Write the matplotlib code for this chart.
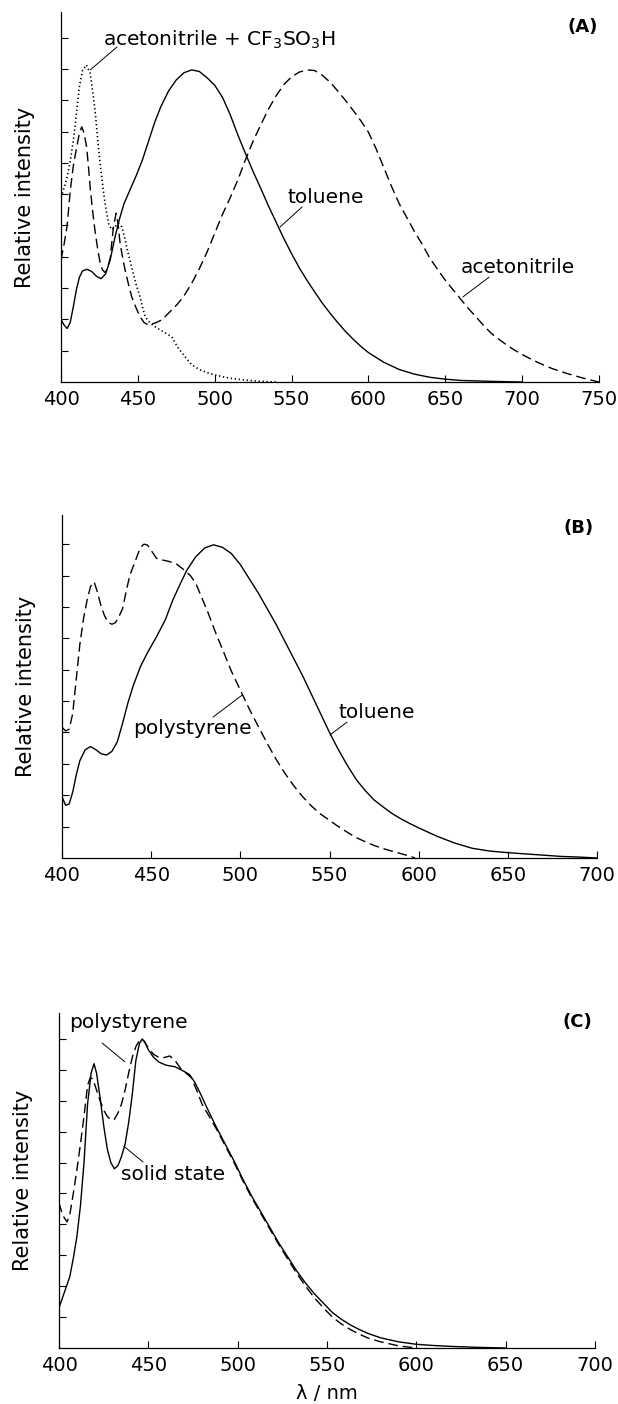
import matplotlib
matplotlib.use("Agg")
import matplotlib.pyplot as plt

plt.rcParams['font.family'] = ['DejaVu Sans']

# ---------------- Panel A data ----------------
a_tol_x = [400, 402, 404, 406, 408, 410, 412, 414, 417, 420, 423, 426, 429, 432, 435, 438, 441, 445, 449,
           453, 457, 461, 465, 470, 475, 480, 485, 490, 495, 500, 505, 510, 515, 520, 525, 530, 535, 540,
           545, 550, 555, 560, 565, 570, 575, 580, 585, 590, 595, 600, 610, 620, 630, 640, 650, 660, 680, 700]
a_tol_y = [2.0, 1.82, 1.71, 1.9, 2.4, 2.95, 3.35, 3.55, 3.6, 3.53, 3.38, 3.3, 3.45, 3.9, 4.6, 5.2, 5.7,
           6.15, 6.6, 7.1, 7.7, 8.3, 8.8, 9.3, 9.65, 9.88, 9.97, 9.92, 9.72, 9.48, 9.1, 8.55, 7.9, 7.3, 6.72,
           6.18, 5.62, 5.1, 4.58, 4.1, 3.65, 3.25, 2.88, 2.52, 2.2, 1.9, 1.62, 1.37, 1.14, 0.94, 0.63, 0.4,
           0.25, 0.15, 0.09, 0.05, 0.02, 0.0]

a_acn_x = [400, 402, 404, 406, 408, 410, 412, 413.5, 415, 416.7, 418, 419, 420.5, 422, 424, 425.5, 427,
           428.6, 430, 432, 434, 435.8, 437, 438.4, 440, 441.6, 444, 446, 449, 451.4, 454, 456.8, 461,
           465.5, 470, 476, 480, 485, 490, 495, 500, 505, 510, 515, 520, 525, 530, 535, 540, 545, 550, 555,
           560, 565, 570, 575, 580, 585, 590, 595, 600, 605, 610, 615, 620, 625, 630, 635, 640, 645, 650,
           655, 660, 665, 670, 675, 680, 685, 690, 695, 700, 705, 710, 715, 720, 725, 730, 735, 740, 745, 750]
a_acn_y = [3.9, 4.4, 5.0, 6.1, 6.9, 7.45, 7.95, 8.15, 7.95, 7.5, 6.8, 6.2, 5.5, 4.88, 4.2, 3.8, 3.58, 3.5,
           3.6, 3.95, 4.9, 5.39, 5.1, 4.45, 4.0, 3.6, 3.1, 2.72, 2.35, 2.09, 1.9, 1.82, 1.88, 1.98, 2.2, 2.5,
           2.75, 3.15, 3.62, 4.15, 4.75, 5.35, 5.88, 6.45, 7.1, 7.7, 8.22, 8.72, 9.15, 9.5, 9.75, 9.9, 9.97,
           9.95, 9.8, 9.58, 9.3, 9.0, 8.68, 8.35, 7.98, 7.45, 6.85, 6.25, 5.7, 5.25, 4.8, 4.4, 3.95, 3.6,
           3.25, 2.95, 2.65, 2.35, 2.08, 1.8, 1.55, 1.36, 1.18, 1.02, 0.88, 0.75, 0.63, 0.52, 0.42, 0.34,
           0.26, 0.19, 0.12, 0.06, 0.0]

a_acid_x = [400, 402, 404, 406, 408, 410, 412, 414, 416.5, 419, 421, 422.5, 424.3, 426, 427.5, 429, 431,
            433, 435, 437.3, 439.5, 441, 443, 445, 447, 449, 451.4, 453, 454.7, 458, 461, 466, 472, 476,
            480, 485, 490, 495, 500, 505, 510, 520, 530, 540]
a_acid_y = [5.9, 6.2, 6.55, 7.05, 7.7, 8.55, 9.45, 9.95, 10.13, 9.86, 9.15, 8.5, 7.52, 6.75, 6.13, 5.6,
            5.05, 4.87, 4.95, 5.07, 4.96, 4.7, 4.25, 3.85, 3.47, 3.1, 2.72, 2.4, 2.09, 1.88, 1.77, 1.62,
            1.45, 1.1, 0.85, 0.55, 0.4, 0.3, 0.23, 0.17, 0.12, 0.06, 0.02, 0.0]

# ---------------- Panel B data ----------------
b_tol_x = [400, 402, 404, 406, 408, 410, 413, 416, 419, 422, 425, 428, 431, 434, 437, 440, 444, 448, 453,
           458, 462, 466, 470, 475, 480, 485, 490, 495, 500, 505, 510, 515, 520, 525, 530, 535, 540, 545,
           550, 555, 560, 565, 570, 575, 580, 585, 590, 595, 600, 610, 620, 630, 640, 650, 660, 670, 680,
           690, 700]
b_tol_y = [1.95, 1.68, 1.72, 2.1, 2.65, 3.1, 3.45, 3.55, 3.45, 3.32, 3.28, 3.4, 3.7, 4.3, 4.95, 5.5, 6.1,
           6.55, 7.05, 7.6, 8.2, 8.7, 9.17, 9.6, 9.88, 9.98, 9.9, 9.7, 9.35, 8.9, 8.45, 7.95, 7.45, 6.9,
           6.35, 5.8, 5.2, 4.6, 4.0, 3.45, 2.95, 2.5, 2.15, 1.85, 1.63, 1.42, 1.25, 1.1, 0.96, 0.7, 0.48,
           0.31, 0.22, 0.17, 0.13, 0.09, 0.05, 0.03, 0.0]

b_ps_x = [400, 402, 404, 406, 408, 410, 412, 414, 416, 418, 420, 422, 424, 426, 428, 430, 432, 434, 436,
          438, 440, 442, 444, 446, 448, 450, 453, 456, 460, 464, 468, 472, 475, 478, 482, 486, 490, 495,
          500, 505, 510, 515, 520, 525, 530, 535, 540, 545, 550, 555, 560, 565, 570, 575, 580, 585, 590,
          595, 598]
b_ps_y = [4.17, 4.05, 4.1, 4.6, 5.7, 6.8, 7.6, 8.2, 8.65, 8.8, 8.45, 8.0, 7.7, 7.5, 7.45, 7.5, 7.7, 7.95,
          8.5, 9.0, 9.3, 9.6, 9.9, 10.0, 9.97, 9.8, 9.55, 9.5, 9.45, 9.38, 9.2, 9.0, 8.75, 8.35, 7.8, 7.2,
          6.65, 5.95, 5.35, 4.75, 4.2, 3.66, 3.15, 2.7, 2.3, 1.95, 1.65, 1.4, 1.2, 1.0, 0.82, 0.65, 0.52,
          0.4, 0.3, 0.22, 0.14, 0.06, 0.0]

# ---------------- Panel C data ----------------
c_ss_x = [400, 403, 406, 408, 410, 412, 414, 416, 418, 419.6, 421, 423, 425, 427, 429, 431, 433, 435, 437,
          439, 441, 443, 445, 446.5, 448, 450, 453, 456, 460, 465, 470, 473, 476, 479, 483, 488, 493, 498,
          503, 508, 513, 518, 523, 528, 533, 538, 543, 548, 553, 558, 563, 568, 573, 580, 590, 600, 610,
          620, 635, 650]
c_ss_y = [1.3, 1.8, 2.3, 2.9, 3.6, 4.6, 6.0, 7.9, 8.9, 9.2, 8.9, 8.1, 7.2, 6.45, 6.0, 5.8, 5.9, 6.2, 6.6,
          7.3, 8.2, 9.3, 9.85, 10.0, 9.9, 9.65, 9.4, 9.25, 9.15, 9.1, 8.95, 8.85, 8.6, 8.25, 7.75, 7.15,
          6.6, 6.05, 5.45, 4.9, 4.4, 3.9, 3.4, 2.95, 2.5, 2.1, 1.75, 1.45, 1.15, 0.93, 0.75, 0.6, 0.47,
          0.33, 0.2, 0.12, 0.08, 0.05, 0.02, 0.0]

c_ps_x = [400, 402, 404.5, 406, 408, 410, 412, 414, 416, 417.5, 419, 421, 423, 425, 427, 429, 431, 433,
          435, 437, 439, 441, 443, 445, 446.5, 448, 450, 453, 456, 459, 462, 465, 468, 471, 474, 477, 480,
          484, 488, 493, 498, 503, 508, 513, 518, 523, 528, 533, 538, 543, 548, 553, 558, 563, 568, 573,
          580, 590, 600]
c_ps_y = [4.7, 4.3, 4.08, 4.3, 5.0, 5.76, 6.6, 7.5, 8.5, 8.75, 8.7, 8.35, 8.0, 7.7, 7.5, 7.38, 7.4, 7.6,
          7.9, 8.35, 8.9, 9.4, 9.75, 9.95, 10.0, 9.9, 9.7, 9.5, 9.4, 9.4, 9.45, 9.3, 9.05, 8.9, 8.75, 8.35,
          7.9, 7.5, 7.1, 6.55, 6.0, 5.4, 4.85, 4.35, 3.85, 3.35, 2.88, 2.42, 2.0, 1.62, 1.3, 1.0, 0.78,
          0.6, 0.45, 0.32, 0.2, 0.07, 0.0]

a_xticks = [400, 450, 500, 550, 600, 650, 700, 750]
bc_xticks = [400, 450, 500, 550, 600, 650, 700]

W, H = 618, 1404
fig = plt.figure(figsize=(W / 100, H / 100), dpi=100)


def px_axes(l, r, t, b):
    return fig.add_axes([l / W, 1 - b / H, (r - l) / W, (b - t) / H])


axA = px_axes(61, 599, 12, 382)
axB = px_axes(62, 597, 515, 858)
axC = px_axes(59, 595, 1013, 1348)

lw = 1.0
dash = (0, (7, 3.5))
dot = (0, (0.8, 1.6))

axA.plot(a_tol_x, a_tol_y, color='black', lw=lw)
axA.plot(a_acn_x, a_acn_y, color='black', lw=lw, linestyle=dash)
axA.plot(a_acid_x, a_acid_y, color='black', lw=1.2, linestyle=dot)

axB.plot(b_tol_x, b_tol_y, color='black', lw=lw)
axB.plot(b_ps_x, b_ps_y, color='black', lw=lw, linestyle=dash)

axC.plot(c_ss_x, c_ss_y, color='black', lw=lw)
axC.plot(c_ps_x, c_ps_y, color='black', lw=lw, linestyle=dash)

axA.set_xlim(400, 750)
axA.set_ylim(0, 11.82)
axA.set_xticks(a_xticks)
axA.set_yticks(range(1, 12))
axB.set_xlim(400, 700)
axB.set_ylim(0, 10.93)
axB.set_xticks(bc_xticks)
axB.set_yticks(range(1, 11))
axC.set_xlim(400, 700)
axC.set_ylim(0, 10.84)
axC.set_xticks(bc_xticks)
axC.set_yticks(range(1, 11))

for ax in (axA, axB, axC):
    ax.spines['top'].set_visible(False)
    ax.spines['right'].set_visible(False)
    ax.spines['left'].set_linewidth(0.9)
    ax.spines['bottom'].set_linewidth(0.9)
    ax.tick_params(axis='both', direction='in', length=5, width=0.8)
    ax.tick_params(axis='y', labelleft=False)
    ax.tick_params(axis='x', labelsize=14, pad=6)
    ax.set_ylabel('Relative intensity', fontsize=15, labelpad=19)

fs = 14.5
line_kw = dict(arrowprops=dict(arrowstyle='-', lw=0.7, color='black', shrinkA=0, shrinkB=0))

# Panel A labels
axA.text(427, 10.93, 'acetonitrile + CF$_3$SO$_3$H', fontsize=fs, ha='left', va='center')
axA.annotate('', xy=(419, 9.97), xytext=(436.4, 10.7), **line_kw)
axA.text(572.4, 5.88, 'toluene', fontsize=fs, ha='center', va='center')
axA.annotate('', xy=(542.5, 4.95), xytext=(556.8, 5.59), **line_kw)
axA.text(697.3, 3.67, 'acetonitrile', fontsize=fs, ha='center', va='center')
axA.annotate('', xy=(661.5, 2.72), xytext=(678.5, 3.35), **line_kw)
axA.text(739.6, 11.34, '(A)', fontsize=13, fontweight='bold', ha='center', va='center')

# Panel B labels
axB.text(472.9, 4.14, 'polystyrene', fontsize=fs, ha='center', va='center')
axB.annotate('', xy=(501, 5.19), xytext=(484.7, 4.49), **line_kw)
axB.text(576.7, 4.65, 'toluene', fontsize=fs, ha='center', va='center')
axB.annotate('', xy=(550.3, 3.92), xytext=(559.8, 4.33), **line_kw)
axB.text(689.4, 10.5, '(B)', fontsize=13, fontweight='bold', ha='center', va='center')

# Panel C labels
axC.text(438.6, 10.52, 'polystyrene', fontsize=fs, ha='center', va='center')
axC.annotate('', xy=(436.9, 9.26), xytext=(424.1, 9.87), **line_kw)
axC.text(463.8, 5.6, 'solid state', fontsize=fs, ha='center', va='center')
axC.annotate('', xy=(436.9, 6.5), xytext=(447, 6.02), **line_kw)
axC.text(689.9, 10.55, '(C)', fontsize=13, fontweight='bold', ha='center', va='center')

axC.set_xlabel('λ / nm', fontsize=14, labelpad=6)

fig.savefig('out.png', dpi=100)
